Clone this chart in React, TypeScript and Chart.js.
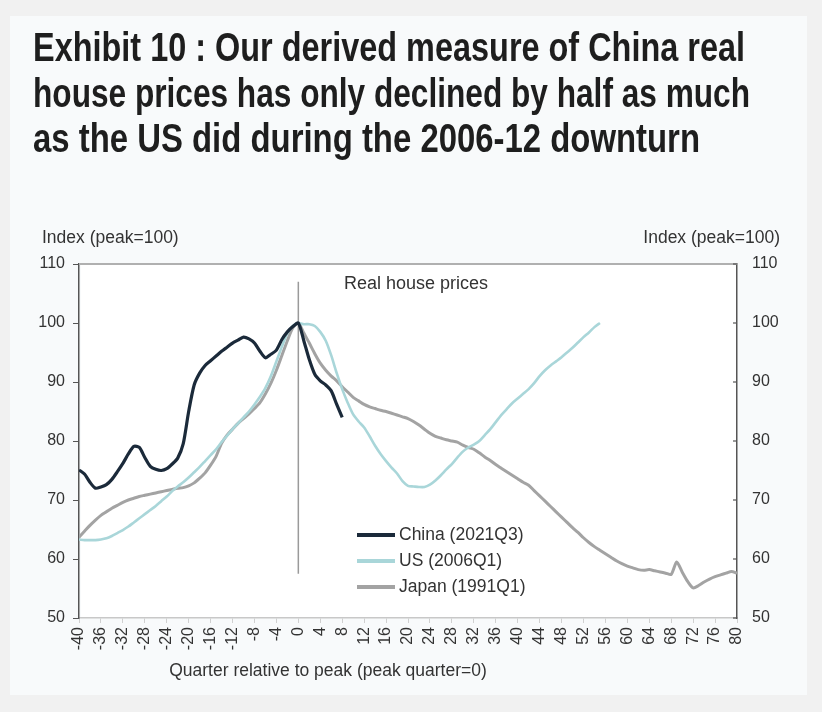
import React, { useEffect, useRef, useState } from "react";
import { Chart, registerables } from "chart.js";

Chart.register(...registerables);

// ---- Data (index, peak quarter = 100) ----
const chinaStart = -40;
const chinaValues = [
  75.1, 74.4, 73.0, 72.0, 72.2, 72.6, 73.5, 74.8, 76.2, 77.8,
  79.1, 78.9, 77.2, 75.7, 75.2, 75.0, 75.3, 76.1, 77.1, 79.5,
  85.0, 89.5, 91.5, 92.8, 93.6, 94.4, 95.2, 95.9, 96.6, 97.1,
  97.6, 97.3, 96.6, 95.2, 94.1, 94.7, 95.4, 97.2, 98.5, 99.4,
  100.0, 97.0, 93.8, 91.3, 90.2, 89.5, 88.5, 86.2, 84.0,
];

const usStart = -40;
const usValues = [
  63.3, 63.2, 63.2, 63.2, 63.3, 63.5, 63.9, 64.4, 64.9, 65.5,
  66.2, 66.9, 67.6, 68.3, 69.0, 69.8, 70.6, 71.5, 72.3, 73.0,
  73.8, 74.7, 75.6, 76.6, 77.6, 78.6, 79.8, 80.9, 82.0, 83.0,
  84.0, 85.0, 86.2, 87.5, 89.0, 91.0, 93.5, 96.0, 98.3, 99.5,
  100.0, 99.8, 99.8, 99.5, 98.5, 97.0, 94.5, 91.5, 88.8, 86.5,
  84.5, 83.3, 82.3, 80.8, 79.2, 77.8, 76.6, 75.5, 74.5, 73.2,
  72.4, 72.3, 72.2, 72.2, 72.6, 73.3, 74.2, 75.2, 76.1, 77.2,
  78.2, 78.9, 79.4, 80.0, 81.0, 82.0, 83.2, 84.4, 85.4, 86.4,
  87.2, 88.0, 88.8, 89.8, 91.0, 92.0, 92.8, 93.5, 94.2, 95.0,
  95.8, 96.7, 97.6, 98.4, 99.3, 100.0,
];

const japanStart = -40;
const japanValues = [
  63.7, 64.7, 65.7, 66.6, 67.4, 68.0, 68.6, 69.1, 69.6, 70.0,
  70.3, 70.6, 70.8, 71.0, 71.2, 71.4, 71.6, 71.8, 72.0, 72.1,
  72.4, 72.9, 73.7, 74.6, 75.9, 77.4, 79.6, 81.0, 82.0, 83.0,
  83.8, 84.6, 85.5, 86.5, 88.0, 89.8, 92.0, 94.5, 97.0, 99.2,
  100.0, 98.3, 96.6, 94.8, 93.2, 92.0, 91.0, 90.2, 89.2, 88.3,
  87.4, 86.8, 86.2, 85.8, 85.5, 85.2, 85.0, 84.7, 84.4, 84.1,
  83.8, 83.3, 82.7, 82.0, 81.3, 80.8, 80.5, 80.2, 80.0, 79.8,
  79.3, 78.9, 78.6, 78.0, 77.3, 76.7, 76.0, 75.4, 74.8, 74.2,
  73.6, 73.0, 72.5, 71.6, 70.7, 69.8, 68.9, 68.0, 67.1, 66.2,
  65.3, 64.5, 63.6, 62.8, 62.1, 61.5, 60.9, 60.3, 59.7, 59.2,
  58.8, 58.5, 58.2, 58.1, 58.2, 58.0, 57.8, 57.6, 57.4, 59.5,
  57.8, 56.2, 55.1, 55.5, 56.1, 56.6, 57.0, 57.3, 57.6, 57.9,
  57.6,
];

const seriesLabels = ["China (2021Q3)", "US (2006Q1)", "Japan (1991Q1)"];
const seriesColors = ["#1b2a3a", "#a9d6d9", "#a3a3a3"];

const xMin = -40;
const xMax = 80;
const xStep = 4;
const yMin = 50;
const yMax = 110;
const yStep = 10;
const peakLineFrom = 107;
const peakLineTo = 57.5;

const titleLines = [
  "Exhibit 10 : Our derived measure of China real",
  "house prices has only declined by half as much",
  "as the US did during the 2006-12 downturn",
];
const axisUnit = "Index (peak=100)";
const xTitle = "Quarter relative to peak (peak quarter=0)";
const innerTitle = "Real house prices";

const toPoints = (start: number, vals: number[]) =>
  vals.map((v, i) => ({ x: start + i, y: v }));

const FONT = "'Liberation Sans', Arial, sans-serif";
const TITLE_FONT_SIZE = 40;
const TITLE_LINE_WIDTHS = [712, 717, 667];

const decorPlugin = {
  id: "decor",
  beforeDatasetsDraw(chart: any) {
    const { ctx, chartArea, scales } = chart;
    const x = scales.x;
    const y = scales.y;
    ctx.save();
    const px = x.getPixelForValue(0);
    ctx.strokeStyle = "#9a9a9a";
    ctx.lineWidth = 1.5;
    ctx.beginPath();
    ctx.moveTo(px, y.getPixelForValue(peakLineFrom));
    ctx.lineTo(px, y.getPixelForValue(peakLineTo));
    ctx.stroke();
    ctx.strokeStyle = "#b0b0b0";
    ctx.lineWidth = 2;
    ctx.beginPath();
    ctx.moveTo(chartArea.left, chartArea.top);
    ctx.lineTo(chartArea.right, chartArea.top);
    ctx.stroke();
    ctx.strokeStyle = "#555";
    ctx.lineWidth = 1.2;
    for (let v = yMin; v <= yMax; v += yStep) {
      const py = y.getPixelForValue(v);
      ctx.beginPath();
      ctx.moveTo(chartArea.right - 4, py);
      ctx.lineTo(chartArea.right, py);
      ctx.stroke();
    }
    ctx.restore();
  },
  afterDraw(chart: any) {
    const { ctx, chartArea } = chart;
    ctx.save();
    ctx.fillStyle = "#333";
    ctx.textBaseline = "middle";
    ctx.font = `17.5px ${FONT}`;
    ctx.textAlign = "left";
    ctx.fillText(axisUnit, chartArea.left - 37, chartArea.top - 26);
    ctx.textAlign = "right";
    ctx.fillText(axisUnit, chartArea.right + 43, chartArea.top - 26);
    ctx.textAlign = "center";
    ctx.fillText(xTitle, chartArea.left + 249, chartArea.bottom + 53);
    ctx.font = `18px ${FONT}`;
    ctx.textAlign = "left";
    ctx.fillText(innerTitle, chartArea.left + 265, chartArea.top + 20);
    const lx = chartArea.left + 278;
    let ly = chartArea.top + 271;
    ctx.font = `17.5px ${FONT}`;
    chart.data.datasets.forEach((ds: any) => {
      ctx.strokeStyle = ds.borderColor;
      ctx.lineWidth = 4;
      ctx.beginPath();
      ctx.moveTo(lx, ly);
      ctx.lineTo(lx + 38, ly);
      ctx.stroke();
      ctx.fillStyle = "#333";
      ctx.textAlign = "left";
      ctx.fillText(ds.label, lx + 42, ly);
      ly += 26;
    });
    ctx.restore();
  },
};

export default function App() {
  const canvasRef = useRef<HTMLCanvasElement | null>(null);
  const [titleScales, setTitleScales] = useState<number[]>([0.82, 0.82, 0.82]);

  useEffect(() => {
    const c = document.createElement("canvas").getContext("2d");
    if (c) {
      c.font = `bold ${TITLE_FONT_SIZE}px 'Liberation Sans'`;
      setTitleScales(
        titleLines.map((t, i) => {
          const w = c.measureText(t).width;
          return w > 0 ? TITLE_LINE_WIDTHS[i] / w : 0.82;
        })
      );
    }
  }, []);

  useEffect(() => {
    if (!canvasRef.current) return;
    const chart = new Chart(canvasRef.current, {
      type: "line",
      data: {
        datasets: [
          {
            label: seriesLabels[0],
            data: toPoints(chinaStart, chinaValues),
            borderColor: seriesColors[0],
            borderWidth: 3.2,
            pointRadius: 0,
            tension: 0.25,
            order: 1,
          },
          {
            label: seriesLabels[1],
            data: toPoints(usStart, usValues),
            borderColor: seriesColors[1],
            borderWidth: 2.6,
            pointRadius: 0,
            tension: 0.25,
            order: 2,
          },
          {
            label: seriesLabels[2],
            data: toPoints(japanStart, japanValues),
            borderColor: seriesColors[2],
            borderWidth: 3,
            pointRadius: 0,
            tension: 0.25,
            order: 3,
          },
        ],
      },
      options: {
        responsive: true,
        maintainAspectRatio: false,
        animation: false,
        layout: { padding: { left: 19, right: 35, top: 264, bottom: 44 } },
        plugins: {
          legend: { display: false },
          tooltip: { enabled: false },
          title: { display: false },
        },
        scales: {
          x: {
            type: "linear",
            min: xMin,
            max: xMax,
            afterFit: (s: any) => {
              s.height = 50;
            },
            ticks: {
              stepSize: xStep,
              minRotation: 90,
              maxRotation: 90,
              autoSkip: false,
              padding: 4,
              color: "#333",
              font: { family: FONT, size: 16 },
            },
            grid: {
              display: true,
              drawOnChartArea: false,
              drawTicks: true,
              tickLength: 5,
              color: "#d0d0d0",
            },
            border: { display: true, color: "#c8c8c8", width: 1.5 },
          },
          y: {
            type: "linear",
            position: "left",
            min: yMin,
            max: yMax,
            afterFit: (s: any) => {
              s.width = 60;
            },
            ticks: {
              stepSize: yStep,
              padding: 8,
              color: "#333",
              font: { family: FONT, size: 16 },
            },
            grid: {
              display: true,
              drawOnChartArea: false,
              drawTicks: true,
              tickLength: 6,
              color: "#555",
            },
            border: { display: true, color: "#555", width: 1.5 },
          },
          y2: {
            type: "linear",
            position: "right",
            min: yMin,
            max: yMax,
            afterFit: (s: any) => {
              s.width = 50;
            },
            ticks: {
              stepSize: yStep,
              padding: 15,
              color: "#333",
              font: { family: FONT, size: 16 },
            },
            grid: { display: false, drawTicks: false },
            border: { display: true, color: "#555", width: 1.5 },
          },
        },
      },
      plugins: [decorPlugin],
    });
    return () => chart.destroy();
  }, []);

  return (
    <div
      style={{
        position: "fixed",
        left: 0,
        top: 0,
        width: 822,
        height: 712,
        background: "#f1f1f1",
        overflow: "hidden",
      }}
    >
      <div
        style={{
          position: "absolute",
          left: 10,
          top: 16,
          width: 797,
          height: 679,
          background: "#f8fafb",
        }}
      />
      <div
        style={{
          position: "absolute",
          left: 81,
          top: 264,
          width: 656,
          height: 354,
          background: "#ffffff",
        }}
      />
      <div
        style={{
          position: "absolute",
          left: 0,
          top: 0,
          width: 822,
          height: 712,
        }}
      >
        <canvas ref={canvasRef} />
      </div>
      <div
        style={{
          position: "absolute",
          left: 33,
          top: 25,
          fontFamily: "'Liberation Sans', Arial, sans-serif",
          fontWeight: 700,
          fontSize: TITLE_FONT_SIZE,
          lineHeight: "45.5px",
          color: "#1e1e1e",
          whiteSpace: "nowrap",
        }}
      >
        {titleLines.map((t, i) => (
          <div
            key={i}
            style={{
              transform: `scaleX(${titleScales[i]})`,
              transformOrigin: "0 0",
            }}
          >
            {t}
          </div>
        ))}
      </div>
    </div>
  );
}
